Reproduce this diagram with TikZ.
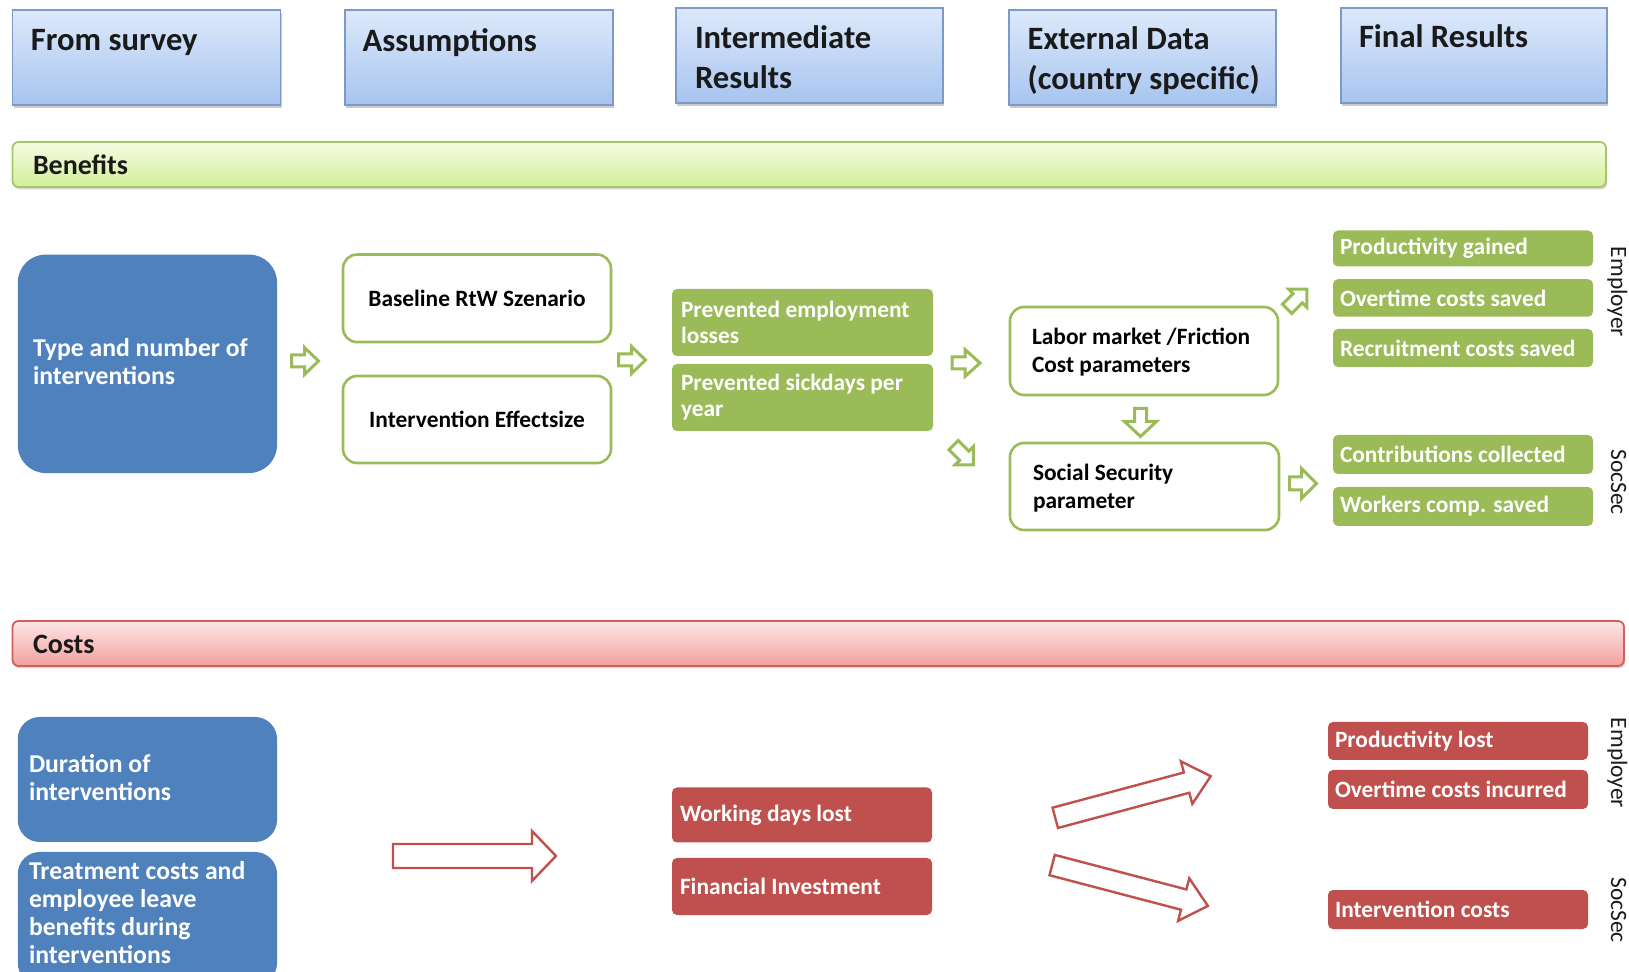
\documentclass[tikz,border=0pt]{standalone}
\usepackage{fontspec}
\setmainfont{Carlito}
\usetikzlibrary{shadows,calc}
\definecolor{hdrtop}{HTML}{DDE9FB}
\definecolor{hdrbot}{HTML}{A7C4EF}
\definecolor{hdrline}{HTML}{7C9AC6}
\definecolor{bentop}{HTML}{F6FCE2}
\definecolor{benbot}{HTML}{D2EE9A}
\definecolor{benline}{HTML}{A6C66A}
\definecolor{costtop}{HTML}{FDE6E6}
\definecolor{costbot}{HTML}{F2A09E}
\definecolor{costline}{HTML}{D0605C}
\definecolor{offblue}{HTML}{4F81BD}
\definecolor{offgreen}{HTML}{9BBB59}
\definecolor{offred}{HTML}{C0504D}
\definecolor{inkdark}{HTML}{1A1A1A}
\newcommand{\blockarrow}[7]{\draw[#1,shift={#2},rotate=#3]
 ({-(#4)/2},{-(#5)}) -- ({(#4)/2-(#7)},{-(#5)}) -- ({(#4)/2-(#7)},{-(#6)}) -- ({(#4)/2},0)
 -- ({(#4)/2-(#7)},{#6}) -- ({(#4)/2-(#7)},{#5}) -- ({-(#4)/2},{#5}) -- cycle;}
\begin{document}
\begin{tikzpicture}[x=0.5pt,y=-0.5pt,
  every node/.style={inner sep=0pt,outer sep=0pt},
  sz/.style 2 args={minimum width={#1*0.5pt},minimum height={#2*0.5pt}},
  hdrbox/.style={draw=hdrline,line width=0.9pt,top color=hdrtop,bottom color=hdrbot,
     drop shadow={opacity=0.4,shadow xshift=0.6pt,shadow yshift=-1.4pt}},
  hdrtxt/.style={anchor=north west,align=left,text=inkdark,font=\bfseries\fontsize{16.3}{19.75}\selectfont},
  benbar/.style={draw=benline,line width=0.9pt,top color=bentop,bottom color=benbot,rounded corners=3pt,
     drop shadow={opacity=0.3,shadow xshift=0.6pt,shadow yshift=-1.2pt}},
  costbar/.style={draw=costline,line width=0.9pt,top color=costtop,bottom color=costbot,rounded corners=3pt,
     drop shadow={opacity=0.3,shadow xshift=0.6pt,shadow yshift=-1.2pt}},
  bartxt/.style={anchor=west,text=inkdark,font=\bfseries\fontsize{14}{16}\selectfont},
  bluebox/.style={fill=offblue},
  bluetxt/.style={align=left,text=white,font=\bfseries\fontsize{12.85}{14}\selectfont},
  assume/.style={draw=offgreen,line width=1.3pt,fill=white,rounded corners=7pt,
     font=\bfseries\fontsize{11.7}{14}\selectfont,text=black},
  extxt/.style={anchor=west,align=left,text=black,font=\bfseries\fontsize{11.7}{14}\selectfont},
  gbox/.style={fill=offgreen,rounded corners=2.5pt},
  rbox/.style={fill=offred,rounded corners=2.5pt},
  wtxt/.style={anchor=west,align=left,text=white,font=\bfseries\fontsize{11.7}{13}\selectfont},
  sidetxt/.style={rotate=-90,anchor=base,text=inkdark,font=\fontsize{11.7}{14}\selectfont},
  garrow/.style={draw=offgreen,line width=1.5pt,fill=white,line join=miter},
  rarrow/.style={draw=offred,line width=1.2pt,fill=white,line join=miter}
]
\useasboundingbox (0,0) rectangle (1629,972);
\clip (0,0) rectangle (1629,972);
\fill[white] (0,0) rectangle (1629,972);

% header boxes
\node[hdrbox,sz={268}{94.6}] (h1) at (146.5,57.7) {};
\node[hdrbox,sz={268}{94.6}] (h2) at (479,57.7) {};
\node[hdrbox,sz={267}{94.6}] (h3) at (809.5,55.6) {};
\node[hdrbox,sz={267}{94.6}] (h4) at (1142.5,57.7) {};
\node[hdrbox,sz={266}{94.6}] (h5) at (1474,55.6) {};
\node[hdrtxt] (t-h1) at (31,29) {From survey};
\node[hdrtxt] (t-h2) at (362.6,29) {Assumptions};
\node[hdrtxt] (t-h3) at (695,26) {Intermediate\\Results};
\node[hdrtxt] (t-h4) at (1027.6,27) {External Data\\(country specific)};
\node[hdrtxt] (t-h5) at (1359,25) {Final Results};

% section bars
\node[benbar,sz={1593.5}{45}] (ben) at (809.25,164.5) {};
\node[bartxt] (t-ben) at (33,165) {Benefits};
\node[costbar,sz={1611.5}{45}] (cost) at (818.25,643.5) {};
\node[bartxt] (t-cost) at (33,644) {Costs};

% benefits
\node[bluebox,rounded corners=14pt,sz={259.3}{218.5}] (typeb) at (147.4,363.8) {};
\node[bluetxt,anchor=west] (t-typeb) at (33,362) {Type and number of\\interventions};

\node[assume,sz={268}{87.5}] (base) at (477,298.3) {Baseline RtW Szenario};
\node[assume,sz={268}{87}] (effect) at (477,419.5) {Intervention Effectsize};

\node[gbox,sz={261}{67}] (prevemp) at (802.5,322.5) {};
\node[wtxt] (t-prevemp) at (681,322.5) {Prevented employment\\losses};
\node[gbox,sz={261}{67}] (prevsick) at (802.5,397.5) {};
\node[wtxt] (t-prevsick) at (681,397.5) {Prevented sickdays per\\year};

\node[assume,sz={268}{88}] (labor) at (1144,351) {};
\node[extxt] (t-labor) at (1032,352) {Labor market /Friction\\Cost parameters};
\node[assume,sz={269}{87}] (social) at (1144.5,486.5) {};
\node[extxt] (t-social) at (1033,488.5) {Social Security\\parameter};

\node[gbox,sz={260}{36}] (pg) at (1463,248.5) {};
\node[wtxt] (t-pg) at (1340,248.5) {Productivity gained};
\node[gbox,sz={260}{37.5}] (ocs) at (1463,298) {};
\node[wtxt] (t-ocs) at (1340,298) {Overtime costs saved};
\node[gbox,sz={260}{38}] (rcs) at (1463,348) {};
\node[wtxt] (t-rcs) at (1340,348) {Recruitment costs saved};
\node[gbox,sz={260}{39}] (cc) at (1463,454.5) {};
\node[wtxt] (t-cc) at (1340,454.5) {Contributions collected};
\node[gbox,sz={260}{39}] (wcs) at (1463,506.5) {};
\node[wtxt] (t-wcs) at (1340,506.5) {Workers comp. saved};

\node[sidetxt] (emp1) at (1611,292) {Employer};
\node[sidetxt] (soc1) at (1611,482) {SocSec};

\blockarrow{garrow}{(305,361)}{0}{27}{6}{13.5}{14}
\blockarrow{garrow}{(632,360)}{0}{27}{6}{13.5}{14}
\blockarrow{garrow}{(966,363)}{0}{28}{6}{13.5}{15}
\blockarrow{garrow}{(963.5,455)}{-45}{28}{6.5}{13}{13}
\blockarrow{garrow}{(1140.5,422.5)}{-90}{28}{6}{16}{15}
\blockarrow{garrow}{(1297,299)}{45}{28}{6.5}{13}{13}
\blockarrow{garrow}{(1303,483.5)}{0}{27}{6.5}{15}{15}

% costs
\node[bluebox,rounded corners=11pt,sz={259.3}{125}] (dur) at (147.4,779.5) {};
\node[bluetxt,anchor=west] (t-dur) at (29,777.5) {Duration of\\interventions};
\node[bluebox,rounded corners=11pt,sz={259.3}{133}] (treat) at (147.4,918.5) {};
\node[bluetxt,anchor=north west] (t-treat) at (29,861) {Treatment costs and\\employee leave\\benefits during\\interventions};

\node[rbox,sz={260}{55}] (wdl) at (802,815) {};
\node[wtxt] (t-wdl) at (680,815) {Working days lost};
\node[rbox,sz={260}{57}] (fi) at (802,886.5) {};
\node[wtxt] (t-fi) at (680,886.5) {Financial Investment};

\node[rbox,sz={260}{38}] (pl) at (1458,741) {};
\node[wtxt] (t-pl) at (1335,741) {Productivity lost};
\node[rbox,sz={260}{39}] (oci) at (1458,789.5) {};
\node[wtxt] (t-oci) at (1335,789.5) {Overtime costs incurred};
\node[rbox,sz={260}{39}] (ic) at (1458,909.5) {};
\node[wtxt] (t-ic) at (1335,909.5) {Intervention costs};

\node[sidetxt] (emp2) at (1611,763) {Employer};
\node[sidetxt] (soc2) at (1611,910) {SocSec};

\blockarrow{rarrow}{(474.5,856)}{0}{163}{12}{25}{24}
\blockarrow{rarrow}{(1133,797)}{15}{161}{10.5}{22}{25}
\blockarrow{rarrow}{(1130,885.5)}{-14.7}{161}{10.5}{22}{25}
\end{tikzpicture}
\end{document}
